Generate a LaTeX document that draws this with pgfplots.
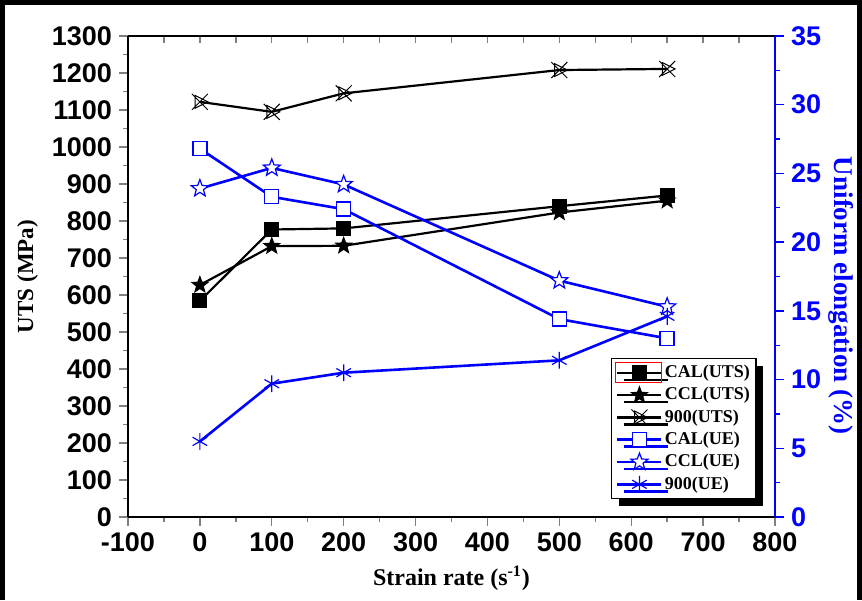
\documentclass[border=0pt]{standalone}
\usepackage{pgfplots}
\pgfplotsset{compat=1.18}
\usepackage{fontspec}
\setmainfont{Liberation Serif}
\newfontfamily\tickfont{Liberation Sans}
\usetikzlibrary{shadows}
\usetikzlibrary{plotmarks}

\pgfdeclareplotmark{pstar}{%
  \pgfpathmoveto{\pgfpointpolar{90}{\pgfplotmarksize}}%
  \pgfpathlineto{\pgfpointpolar{126}{0.42\pgfplotmarksize}}%
  \pgfpathlineto{\pgfpointpolar{162}{\pgfplotmarksize}}%
  \pgfpathlineto{\pgfpointpolar{198}{0.42\pgfplotmarksize}}%
  \pgfpathlineto{\pgfpointpolar{234}{\pgfplotmarksize}}%
  \pgfpathlineto{\pgfpointpolar{270}{0.42\pgfplotmarksize}}%
  \pgfpathlineto{\pgfpointpolar{306}{\pgfplotmarksize}}%
  \pgfpathlineto{\pgfpointpolar{342}{0.42\pgfplotmarksize}}%
  \pgfpathlineto{\pgfpointpolar{18}{\pgfplotmarksize}}%
  \pgfpathlineto{\pgfpointpolar{54}{0.42\pgfplotmarksize}}%
  \pgfpathclose
  \pgfusepathqfillstroke
}
\pgfdeclareplotmark{trix}{%
  \pgfpathmoveto{\pgfpoint{\pgfplotmarksize}{0pt}}%
  \pgfpathlineto{\pgfpoint{-0.6\pgfplotmarksize}{0.8\pgfplotmarksize}}%
  \pgfpathlineto{\pgfpoint{-0.6\pgfplotmarksize}{-0.8\pgfplotmarksize}}%
  \pgfpathclose
  \pgfpathmoveto{\pgfpoint{-\pgfplotmarksize}{-\pgfplotmarksize}}%
  \pgfpathlineto{\pgfpoint{\pgfplotmarksize}{\pgfplotmarksize}}%
  \pgfpathmoveto{\pgfpoint{-\pgfplotmarksize}{\pgfplotmarksize}}%
  \pgfpathlineto{\pgfpoint{\pgfplotmarksize}{-\pgfplotmarksize}}%
  \pgfusepathqstroke
}

\definecolor{ublue}{RGB}{0,0,255}

\pgfplotsset{
  myaxis/.style={
    at={(64pt,41.5pt)}, anchor=south west,
    scale only axis, width=323.5pt, height=240.5pt,
    xmin=-100, xmax=800,
    tick align=outside, major tick length=4.5pt, minor tick length=2.5pt,
    tick label style={font=\tickfont\bfseries\fontsize{13.5}{14}\selectfont},
    /pgf/number format/assume math mode=true,
    /pgf/number format/1000 sep={},
    axis line style={line width=0.7pt},
    every tick/.append style={line width=0.7pt},
    label style={font=\bfseries},
  },
  legend image code/.code={%
    \draw[mark repeat=2,mark phase=2] plot coordinates {(4pt,0pt) (15pt,0pt) (26pt,0pt)};},
}

\begin{document}
\begin{tikzpicture}
\useasboundingbox (0,0) rectangle (431pt,300pt);

% top axis line with inward ticks
\begin{axis}[myaxis,
  ymin=0, ymax=1,
  axis x line*=top, axis y line=none,
  tick align=inside,
  xtick={-100,0,...,800}, minor x tick num=1,
  major tick length=3.5pt, minor tick length=3.5pt,
  xticklabels={},
]
\addplot[draw=none, forget plot] coordinates {(0,0)};
\end{axis}

% main (left) axis
\begin{axis}[myaxis,
  ymin=0, ymax=1300,
  axis x line*=bottom, axis y line*=left,
  xtick={-100,0,...,800}, minor x tick num=1,
  xticklabels={-100,0,100,200,300,400,500,600,700,800},
  ytick={0,100,...,1300}, minor y tick num=1,
  xlabel={Strain rate (s\textsuperscript{-1})},
  ylabel={UTS (MPa)},
  xlabel style={font=\bfseries\fontsize{12}{13}\selectfont},
  ylabel style={font=\bfseries\fontsize{11.5}{13}\selectfont},
]
\addplot[black, line width=1.1pt, mark=square*, mark size=3.5pt, mark options={line width=0.5pt, fill=black}]
  coordinates {(0,584) (100,777) (200,780) (500,840) (650,869)};
\addplot[black, line width=1.1pt, mark=pstar, mark size=4.2pt, mark options={line width=0.5pt, fill=black}]
  coordinates {(0,627) (100,732) (200,733) (500,823) (650,855)};
\addplot[black, line width=1.1pt, mark=trix, mark size=4pt, mark options={line width=0.5pt}]
  coordinates {(0,1122) (100,1095) (200,1145) (500,1208) (650,1211)};
\end{axis}

% right axis
\begin{axis}[myaxis,
  ymin=0, ymax=35,
  axis x line=none, axis y line*=right,
  ytick={0,5,...,35}, minor y tick num=1,
  y axis line style={ublue},
  every tick/.append style={ublue},
  yticklabel style={text=ublue},
  ylabel={Uniform elongation (\%)},
  every axis y label/.style={at={(axis description cs:1.079,0.46)}, anchor=south, rotate=-90,
     text=ublue, font=\bfseries\fontsize{13.5}{15}\selectfont, inner sep=1pt},
  legend style={
    name=leg,
    at={(rel axis cs:0.972,0.037)}, anchor=south east,
    font=\bfseries\fontsize{9}{10}\selectfont,
    draw=black, line width=0.7pt, fill=white,
    nodes={inner sep=1pt},
    row sep=1.4pt, inner sep=2.2pt,
    drop shadow={shadow xshift=3.5pt, shadow yshift=-3.5pt, fill=black, opacity=1},
  },
  legend cell align=left,
]
\addlegendimage{black, line width=1.1pt, mark=square*, mark size=3.5pt, mark options={line width=0.5pt, fill=black}}
\addlegendentry{CAL(UTS)}
\addlegendimage{black, line width=1.1pt, mark=pstar, mark size=4.2pt, mark options={line width=0.5pt, fill=black}}
\addlegendentry{CCL(UTS)}
\addlegendimage{black, line width=1.1pt, mark=trix, mark size=4pt, mark options={line width=0.5pt}}
\addlegendentry{900(UTS)}
\addplot[ublue, line width=1.3pt, mark=square*, mark size=3.5pt, mark options={line width=0.7pt, fill=white}]
  coordinates {(0,26.8) (100,23.3) (200,22.4) (500,14.4) (650,13.0)};
\addlegendentry{CAL(UE)}
\addplot[ublue, line width=1.3pt, mark=pstar, mark size=4.5pt, mark options={line width=0.6pt, fill=white}]
  coordinates {(0,23.9) (100,25.4) (200,24.2) (500,17.2) (650,15.3)};
\addlegendentry{CCL(UE)}
\addplot[ublue, line width=1.3pt, mark=asterisk, mark size=4.2pt, mark options={line width=0.6pt}]
  coordinates {(0,5.5) (100,9.7) (200,10.5) (500,11.4) (650,14.6)};
\addlegendentry{900(UE)}
\end{axis}

\draw[red, line width=0.5pt] ([shift={(2.2pt,-2.2pt)}]leg.north west) rectangle ([shift={(25pt,-12.2pt)}]leg.north west);

\draw[line width=2.5pt] (1.25pt,0pt) -- (1.25pt,298.75pt) -- (429.75pt,298.75pt) -- (429.75pt,0pt);
\end{tikzpicture}
\end{document}
